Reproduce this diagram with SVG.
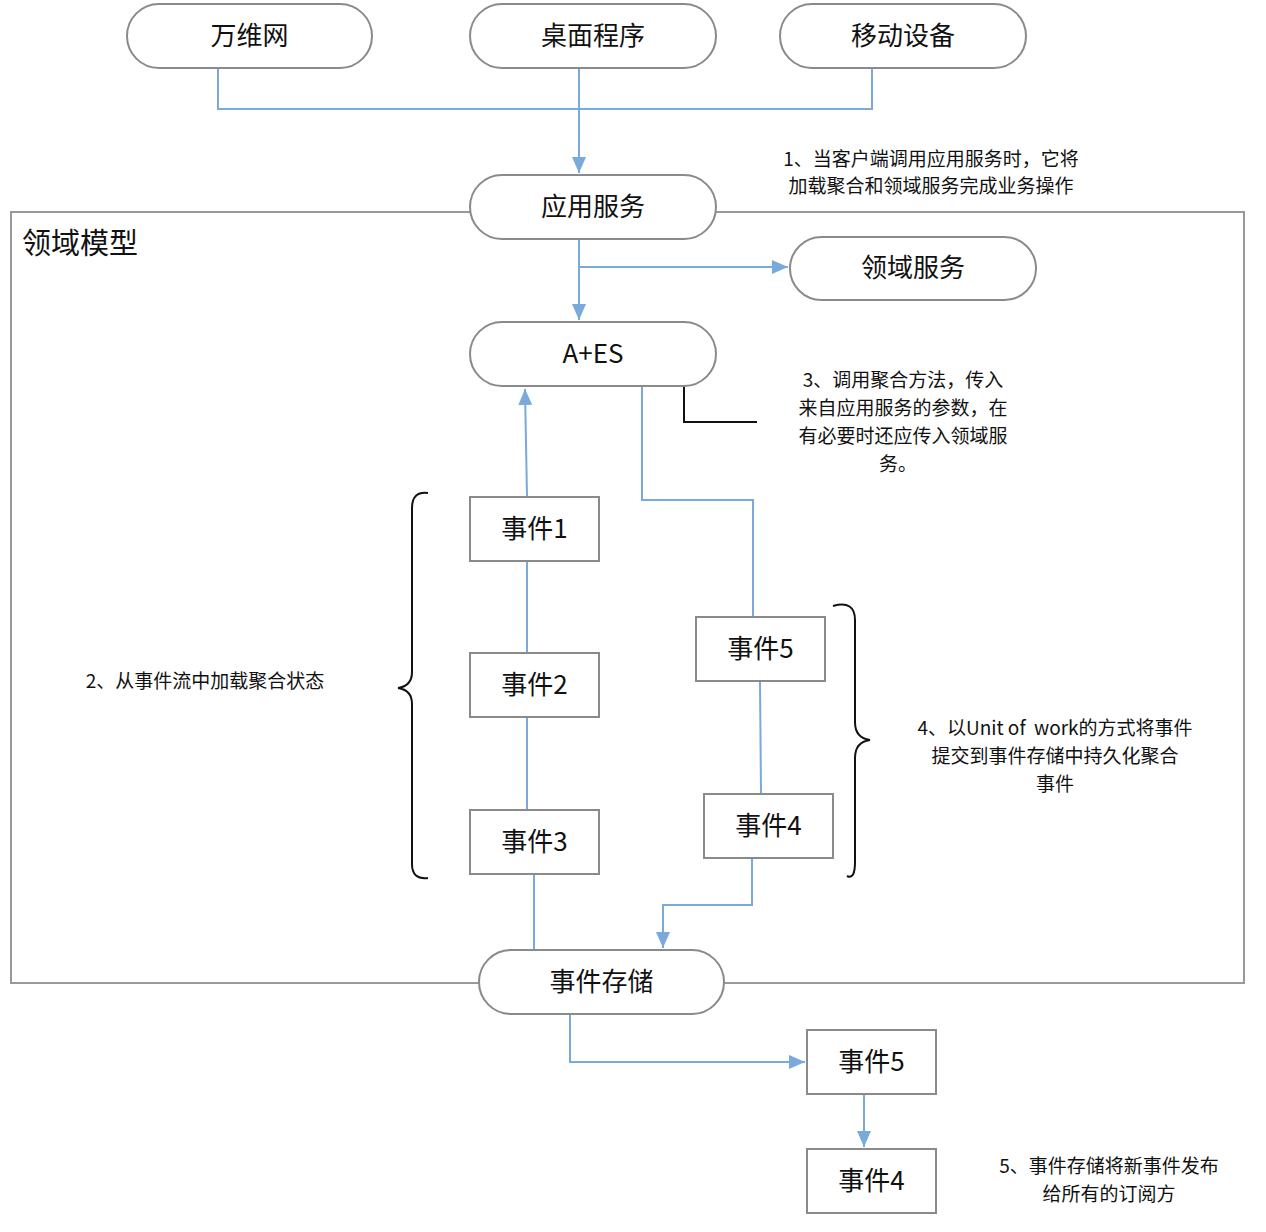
<svg xmlns="http://www.w3.org/2000/svg" width="1266" height="1232" viewBox="0 0 1266 1232">
<style>
.pill{fill:#fff;stroke:#8a8a8a;stroke-width:2}
.box{fill:#fff;stroke:#8a8a8a;stroke-width:2}
.lbl{font-family:"Noto Sans CJK SC","Liberation Sans",sans-serif;font-size:26px;fill:#111;text-anchor:middle}
.note{font-family:"Noto Sans CJK SC","Liberation Sans",sans-serif;font-size:19px;fill:#111;text-anchor:middle;white-space:pre}
.conn{fill:none;stroke:#7aa9dc;stroke-width:2}
.brace{fill:none;stroke:#111;stroke-width:2}
</style>
<defs>
<marker id="arr" markerUnits="userSpaceOnUse" markerWidth="16" markerHeight="14" refX="16" refY="7" orient="auto">
<path d="M0,0 L16,7 L0,14 z" fill="#7aa9dc"/>
</marker>
</defs>
<rect width="1266" height="1232" fill="#fff"/>
<g id="domain-model">
<rect x="11" y="212" width="1233" height="771" fill="none" stroke="#999" stroke-width="2"/>
<text x="22" y="254" font-family="'Noto Sans CJK SC','Liberation Sans',sans-serif" font-size="29" fill="#111">领域模型</text>
</g>
<g id="connectors">
<path class="conn" d="M218,68 V109 H872 V68"/>
<path class="conn" d="M579,68 V173" marker-end="url(#arr)"/>
<path class="conn" d="M579,239 V320" marker-end="url(#arr)"/>
<path class="conn" d="M579,267 H788" marker-end="url(#arr)"/>
<path class="conn" d="M527,497 L525,389" marker-end="url(#arr)"/>
<path class="conn" d="M642,384 V500 H753 V617"/>
<path class="conn" d="M527,561 V653"/>
<path class="conn" d="M527,717 V810"/>
<path class="conn" d="M534,874 V950"/>
<path class="conn" d="M760,681 L761,794"/>
<path class="conn" d="M752,858 V905 H663 V948" marker-end="url(#arr)"/>
<path class="conn" d="M570,1014 V1062 H805" marker-end="url(#arr)"/>
<path class="conn" d="M864,1094 V1147" marker-end="url(#arr)"/>
<path d="M684,386 V422 H757" fill="none" stroke="#111" stroke-width="2"/>
</g>
<g id="n-www"><rect class="pill" x="127" y="4" width="245" height="64" rx="32"/><text class="lbl" x="249.5" y="45">万维网</text></g>
<g id="n-desktop"><rect class="pill" x="470" y="4" width="246" height="64" rx="32"/><text class="lbl" x="593" y="45">桌面程序</text></g>
<g id="n-mobile"><rect class="pill" x="780" y="4" width="246" height="64" rx="32"/><text class="lbl" x="903" y="45">移动设备</text></g>
<g id="n-appsvc"><rect class="pill" x="470" y="175" width="246" height="64" rx="32"/><text class="lbl" x="593" y="216">应用服务</text></g>
<g id="n-domainsvc"><rect class="pill" x="790" y="237" width="246" height="63" rx="31.5"/><text class="lbl" x="913" y="277">领域服务</text></g>
<g id="n-aes"><rect class="pill" x="470" y="322" width="246" height="64" rx="32"/><text class="lbl" x="593" y="363">A+ES</text></g>
<g id="n-e1"><rect class="box" x="470" y="497" width="129" height="64"/><text class="lbl" x="534.5" y="538">事件1</text></g>
<g id="n-e2"><rect class="box" x="470" y="653" width="129" height="64"/><text class="lbl" x="534.5" y="694">事件2</text></g>
<g id="n-e3"><rect class="box" x="470" y="810" width="129" height="64"/><text class="lbl" x="534.5" y="851">事件3</text></g>
<g id="n-e5"><rect class="box" x="696" y="617" width="129" height="64"/><text class="lbl" x="760.5" y="658">事件5</text></g>
<g id="n-e4"><rect class="box" x="704" y="794" width="129" height="64"/><text class="lbl" x="768.5" y="835">事件4</text></g>
<g id="n-store"><rect class="pill" x="479" y="950" width="245" height="64" rx="32"/><text class="lbl" x="601.5" y="991">事件存储</text></g>
<g id="n-e5b"><rect class="box" x="807" y="1030" width="129" height="64"/><text class="lbl" x="871.5" y="1071">事件5</text></g>
<g id="n-e4b"><rect class="box" x="807" y="1149" width="129" height="64"/><text class="lbl" x="871.5" y="1190">事件4</text></g>
<g id="braces">
<path class="brace" d="M428,493 Q412,491 412,508 V672 Q412,686 398,688 Q412,690 412,704 V864 Q412,880 428,878"/>
<path class="brace" d="M833,606 Q855,600 855,620 V722 Q855,738 870,740 Q855,742 855,758 V862 Q855,880 847,876"/>
</g>
<g id="notes">
<text class="note" x="931" y="166">1、当客户端调用应用服务时，它将</text>
<text class="note" x="931" y="193">加载聚合和领域服务完成业务操作</text>
<text class="note" x="903" y="387">3、调用聚合方法，传入</text>
<text class="note" x="903" y="415">来自应用服务的参数，在</text>
<text class="note" x="903" y="443">有必要时还应传入领域服</text>
<text class="note" x="898" y="471">务。</text>
<text class="note" x="205" y="688">2、从事件流中加载聚合状态</text>
<text class="note" x="1055" y="735" xml:space="preserve">4、以Unit of  work的方式将事件</text>
<text class="note" x="1055" y="763">提交到事件存储中持久化聚合</text>
<text class="note" x="1055" y="791">事件</text>
<text class="note" x="1109" y="1173">5、事件存储将新事件发布</text>
<text class="note" x="1109" y="1201">给所有的订阅方</text>
</g>
</svg>
